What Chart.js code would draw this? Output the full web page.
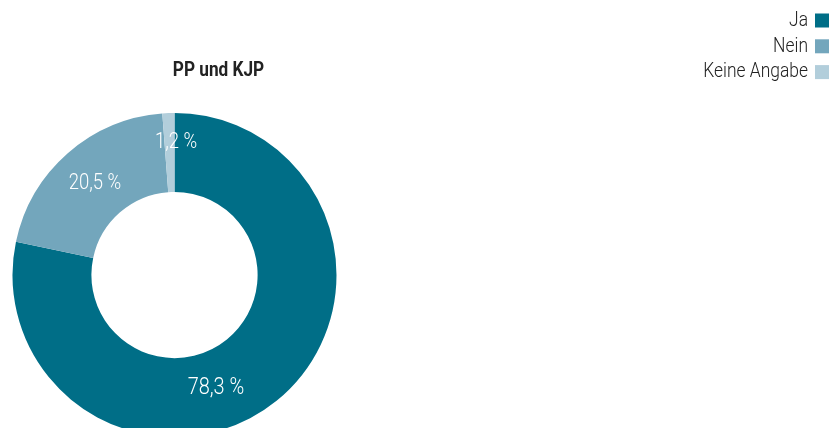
<!DOCTYPE html>
<html lang="de">
<head>
<meta charset="utf-8">
<script src="https://cdn.jsdelivr.net/npm/chart.js@4"></script>
<style>
  html, body { margin: 0; padding: 0; background: #fff; overflow: hidden; }
  #wrap { position: absolute; left: 0; top: 0; width: 832px; height: 460px; }
</style>
</head>
<body>
<div id="wrap"><canvas id="pie"></canvas></div>
<script>
const categories = ["Ja", "Nein", "Keine Angabe"];
const values = [78.3, 20.5, 1.2];
const valueLabels = ["78,3 %", "20,5 %", "1,2 %"];
const chartTitle = "PP und KJP";

const colors = ["#006e87", "#73a6bc", "#b2cedb"];
const FONT = 'Roboto, "DejaVu Sans Condensed", sans-serif';

// where along each ring segment its value text sits (t = along the arc, r = across the ring)
const labelSpots = [{ t: 0.566, r: 0.45 }, { t: 0.51, r: 0.5 }, { t: 1.15, r: 0.64 }];

// the reference uses a narrow face, so squeeze the text horizontally
function narrowText(ctx, text, x, y, squeeze) {
  ctx.save();
  ctx.translate(x, y);
  ctx.scale(squeeze, 1);
  ctx.fillText(text, 0, 0);
  ctx.restore();
}

const sliceLabels = {
  id: "sliceLabels",
  afterDatasetsDraw(chart) {
    const ctx = chart.ctx;
    const arcs = chart.getDatasetMeta(0).data;
    ctx.save();
    ctx.fillStyle = "#fff";
    ctx.textAlign = "center";
    ctx.textBaseline = "middle";
    arcs.forEach((arc, i) => {
      const p = arc.getProps(["x", "y", "startAngle", "endAngle", "innerRadius", "outerRadius"], true);
      const spot = labelSpots[i];
      const a = p.startAngle + (p.endAngle - p.startAngle) * spot.t;
      const r = p.innerRadius + (p.outerRadius - p.innerRadius) * spot.r;
      ctx.font = "300 " + (i === 0 ? "24px " : "22px ") + FONT;
      narrowText(ctx, valueLabels[i], p.x + Math.cos(a) * r, p.y + Math.sin(a) * r + 1.5, i === 0 ? 0.83 : 0.84);
    });
    ctx.restore();
  }
};

const titleAndLegend = {
  id: "titleAndLegend",
  afterDraw(chart) {
    const ctx = chart.ctx;
    ctx.save();
    ctx.fillStyle = "#222";
    ctx.textBaseline = "middle";
    ctx.textAlign = "center";
    ctx.font = "bold 21px " + FONT;
    narrowText(ctx, chartTitle, 218.5, 70.5, 0.82);

    ctx.textAlign = "right";
    ctx.font = "300 21px " + FONT;
    categories.forEach((c, i) => {
      const y = 20.5 + i * 25.8;
      ctx.fillStyle = "#222";
      narrowText(ctx, c, 808, y, 0.83);
      ctx.fillStyle = colors[i];
      ctx.fillRect(815, y - 7, 14, 14);
    });
    ctx.restore();
  }
};

new Chart(document.getElementById("pie"), {
  type: "doughnut",
  data: {
    labels: categories,
    datasets: [{ data: values, backgroundColor: colors, borderWidth: 0 }]
  },
  options: {
    responsive: true,
    maintainAspectRatio: false,
    animation: false,
    cutout: "51.3%",
    layout: { padding: { left: 12.5, top: 113, right: 495.5, bottom: 23 } },
    plugins: {
      legend: { display: false },
      tooltip: { enabled: false }
    }
  },
  plugins: [sliceLabels, titleAndLegend]
});
</script>
</body>
</html>
